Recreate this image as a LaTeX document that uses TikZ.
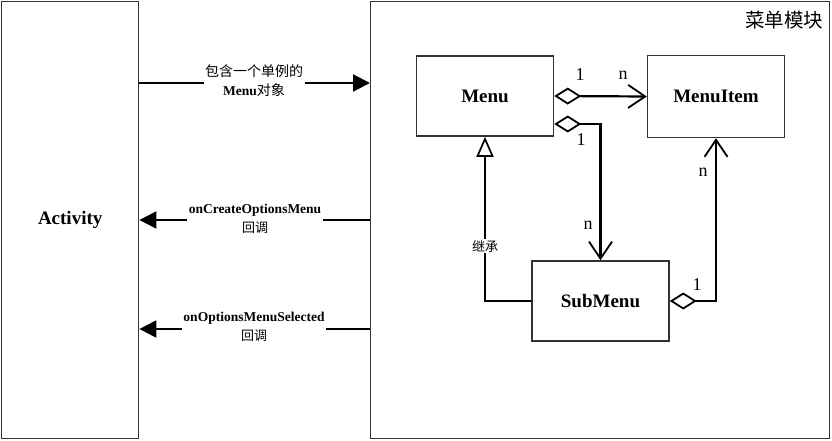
\documentclass[tikz,border=0pt]{standalone}
\usepackage{fontspec}
\setmainfont{Liberation Serif}
\newfontfamily\cjk{Noto Sans CJK SC}
\usetikzlibrary{arrows.meta,positioning}
\begin{document}
\begin{tikzpicture}[x=1pt,y=-1pt,
  bigbox/.style={draw=black!80,line width=1.4pt},
  cls/.style={draw=black!80,line width=1.5pt,minimum width=137pt,minimum height=80pt,inner sep=0pt,
    font=\fontsize{19}{22}\selectfont\bfseries},
  conn/.style={line width=2.2pt},
  callarrow/.style={conn,-{Triangle[length=17pt,width=17pt]}},
  agg/.style={conn,{Diamond[open,length=27pt,width=17pt,line width=1.8pt]}-{Straight Barb[length=17pt,width=23pt,line width=1.8pt]}},
  inh/.style={conn,-{Triangle[open,length=20pt,width=17pt,fill=white,line width=1.7pt]}},
  lbl/.style={fill=white,inner sep=1.5pt,align=center,font=\fontsize{13.5}{19}\selectfont\bfseries},
  mult/.style={inner sep=0pt,font=\fontsize{18}{20}\selectfont},
  cn/.style={inner sep=1pt,fill=white,font=\cjk\fontsize{13}{15}\selectfont}
]
\useasboundingbox (0,0) rectangle (832,441);
\fill[white] (0,0) rectangle (832,441);
% outer boxes
\node[bigbox,minimum width=137pt,minimum height=437pt,inner sep=0pt,anchor=north west,
  font=\fontsize{19}{22}\selectfont\bfseries] (act) at (1,1) {Activity};
\node[bigbox,minimum width=459pt,minimum height=437pt,inner sep=0pt,anchor=north west] (mod) at (370,1) {};
\node[font=\cjk\fontsize{19.5}{22}\selectfont,inner sep=0pt] (title) at (784,20) {菜单模块};
% classes
\node[cls] (menu) at (485,96) {Menu};
\node[cls,minimum height=82pt] (item) at (716,96.5) {MenuItem};
\node[cls] (sub) at (600.5,301) {SubMenu};
% calls between Activity and module
\coordinate (a1) at (act.east |- 0,83);
\coordinate (m1) at (mod.west |- 0,83);
\coordinate (a2) at (act.east |- 0,220);
\coordinate (m2) at (mod.west |- 0,220);
\coordinate (a3) at (act.east |- 0,329);
\coordinate (m3) at (mod.west |- 0,329);
\draw[callarrow] (a1) -- (m1);
\draw[callarrow] (m2) -- (a2);
\draw[callarrow] (m3) -- (a3);
\node[lbl] (l1) at (254,81) {{\cjk\mdseries\fontsize{14}{16}\selectfont 包含一个单例的}\\Menu{\cjk\mdseries\fontsize{14}{16}\selectfont 对象}};
\node[lbl] (l2) at (255,219) {onCreateOptionsMenu\\{\cjk\mdseries\fontsize{13}{15}\selectfont 回调}};
\node[lbl] (l3) at (254,327) {onOptionsMenuSelected\\{\cjk\mdseries\fontsize{13}{15}\selectfont 回调}};
% associations
\draw[agg] (menu.east) -- (item.west);
\coordinate (ms) at (menu.east |- 0,124);
\draw[agg] (ms) -| (sub.north);
\draw[agg] (sub.east) -| (item.south);
\draw[inh] (sub.west) -| (menu.south);
\node[cn] (inhl) at (485,246) {继承};
% multiplicities
\node[mult] (m1a) at (580,75) {1};
\node[mult] (m1b) at (623,75) {n};
\node[mult] (m2a) at (581,140) {1};
\node[mult] (m2b) at (588,225) {n};
\node[mult] (m3a) at (697,285) {1};
\node[mult] (m3b) at (703,172) {n};
\end{tikzpicture}
\end{document}
